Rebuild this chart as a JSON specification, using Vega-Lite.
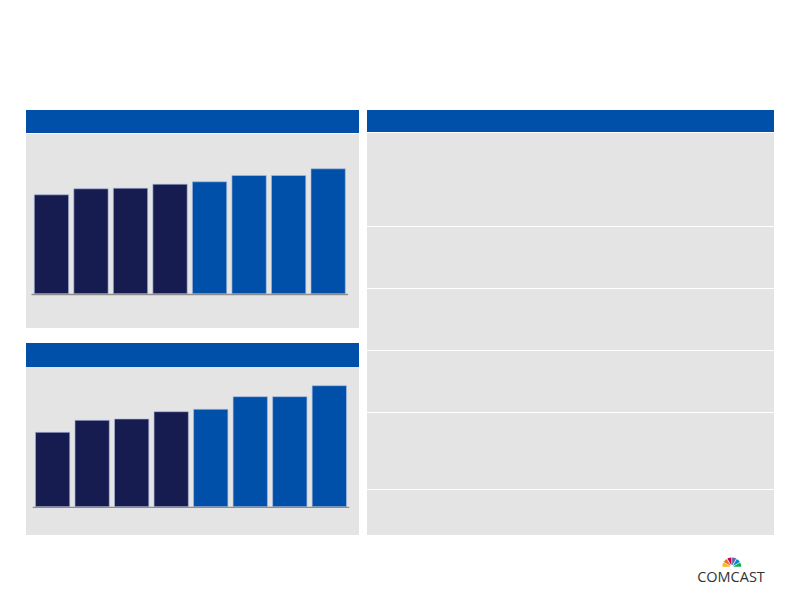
{
  "$schema": "https://vega.github.io/schema/vega-lite/v6.json",
  "background": "white",
  "padding": {"left": 26, "top": 110, "right": 0, "bottom": 0},
  "config": {"view": {"stroke": null}},
  "resolve": {"scale": {"color": "independent"}},
  "datasets": {
    "top": [
      {"bar": "1", "segment": "actual", "value": 99.0},
      {"bar": "2", "segment": "actual", "value": 105.0},
      {"bar": "3", "segment": "actual", "value": 105.6},
      {"bar": "4", "segment": "actual", "value": 109.6},
      {"bar": "5", "segment": "forecast", "value": 112.0},
      {"bar": "6", "segment": "forecast", "value": 118.3},
      {"bar": "7", "segment": "forecast", "value": 118.3},
      {"bar": "8", "segment": "forecast", "value": 125.0}
    ],
    "bottom": [
      {"bar": "1", "segment": "actual", "value": 74.4},
      {"bar": "2", "segment": "actual", "value": 86.4},
      {"bar": "3", "segment": "actual", "value": 87.7},
      {"bar": "4", "segment": "actual", "value": 95.0},
      {"bar": "5", "segment": "forecast", "value": 97.4},
      {"bar": "6", "segment": "forecast", "value": 110.0},
      {"bar": "7", "segment": "forecast", "value": 110.0},
      {"bar": "8", "segment": "forecast", "value": 121.0}
    ],
    "blank": [{"label": ""}],
    "feathers": [
      {"feather": "1", "share": 1},
      {"feather": "2", "share": 1},
      {"feather": "3", "share": 1},
      {"feather": "4", "share": 1},
      {"feather": "5", "share": 1},
      {"feather": "6", "share": 1}
    ],
    "brand": [{"brand": "COMCAST"}]
  },
  "hconcat": [
    {
      "spacing": 15,
      "resolve": {"scale": {"color": "independent"}},
      "vconcat": [
        {
          "spacing": 1,
          "vconcat": [
            {
              "width": 333, "height": 23,
              "view": {"fill": "#004FA8", "stroke": null},
              "data": {"name": "blank"},
              "mark": "text",
              "encoding": {"text": {"field": "label"}}
            },
            {
              "width": 333, "height": 194,
              "view": {"fill": "#E4E4E4", "stroke": null},
              "data": {"name": "top"},
              "layer": [
                {
                  "mark": {"type": "bar", "stroke": "#A8BBDF", "strokeWidth": 0.8, "strokeOpacity": 0.8},
                  "encoding": {
                    "x": {"field": "bar", "type": "nominal", "axis": null, "scale": {"paddingInner": 0.132, "paddingOuter": 0.278, "align": 0.377}},
                    "y": {"field": "value", "type": "quantitative", "axis": null, "scale": {"domain": [-34.2, 159.8], "nice": false}},
                    "color": {"field": "segment", "type": "nominal", "legend": null, "scale": {"domain": ["actual", "forecast"], "range": ["#161B50", "#004FA8"]}}
                  }
                },
                {
                  "mark": {"type": "bar", "width": {"band": 1.16}, "color": "#8E8E8E"},
                  "encoding": {
                    "x": {"field": "bar", "type": "nominal", "axis": null},
                    "y": {"datum": 0, "type": "quantitative"},
                    "y2": {"datum": -1.4}
                  }
                }
              ]
            }
          ]
        },
        {
          "spacing": 0,
          "vconcat": [
            {
              "width": 333, "height": 24,
              "view": {"fill": "#004FA8", "stroke": null},
              "data": {"name": "blank"},
              "mark": "text",
              "encoding": {"text": {"field": "label"}}
            },
            {
              "width": 333, "height": 168,
              "view": {"fill": "#E4E4E4", "stroke": null},
              "data": {"name": "bottom"},
              "layer": [
                {
                  "mark": {"type": "bar", "stroke": "#A8BBDF", "strokeWidth": 0.8, "strokeOpacity": 0.8},
                  "encoding": {
                    "x": {"field": "bar", "type": "nominal", "axis": null, "scale": {"paddingInner": 0.132, "paddingOuter": 0.278, "align": 0.43}},
                    "y": {"field": "value", "type": "quantitative", "axis": null, "scale": {"domain": [-28.3, 139.7], "nice": false}},
                    "color": {"field": "segment", "type": "nominal", "legend": null, "scale": {"domain": ["actual", "forecast"], "range": ["#161B50", "#004FA8"]}}
                  }
                },
                {
                  "mark": {"type": "bar", "width": {"band": 1.16}, "color": "#8E8E8E"},
                  "encoding": {
                    "x": {"field": "bar", "type": "nominal", "axis": null},
                    "y": {"datum": 0, "type": "quantitative"},
                    "y2": {"datum": -1.4}
                  }
                }
              ]
            }
          ]
        }
      ]
    },
    {
      "spacing": 20,
      "resolve": {"scale": {"color": "independent"}},
      "vconcat": [
        {
          "spacing": 1,
          "vconcat": [
            {"width": 407, "height": 22, "view": {"fill": "#004FA8", "stroke": null}, "data": {"name": "blank"}, "mark": "text", "encoding": {"text": {"field": "label"}}},
            {"width": 407, "height": 93, "view": {"fill": "#E4E4E4", "stroke": null}, "data": {"name": "blank"}, "mark": "text", "encoding": {"text": {"field": "label"}}},
            {"width": 407, "height": 61, "view": {"fill": "#E4E4E4", "stroke": null}, "data": {"name": "blank"}, "mark": "text", "encoding": {"text": {"field": "label"}}},
            {"width": 407, "height": 61, "view": {"fill": "#E4E4E4", "stroke": null}, "data": {"name": "blank"}, "mark": "text", "encoding": {"text": {"field": "label"}}},
            {"width": 407, "height": 61, "view": {"fill": "#E4E4E4", "stroke": null}, "data": {"name": "blank"}, "mark": "text", "encoding": {"text": {"field": "label"}}},
            {"width": 407, "height": 76, "view": {"fill": "#E4E4E4", "stroke": null}, "data": {"name": "blank"}, "mark": "text", "encoding": {"text": {"field": "label"}}},
            {"width": 407, "height": 45, "view": {"fill": "#E4E4E4", "stroke": null}, "data": {"name": "blank"}, "mark": "text", "encoding": {"text": {"field": "label"}}}
          ]
        },
        {
          "width": 407, "height": 30,
          "layer": [
            {
              "data": {"name": "feathers"},
              "mark": {"type": "arc", "x": 364.8, "y": 12, "outerRadius": 9.5, "innerRadius": 2, "padAngle": 0.07},
              "encoding": {
                "theta": {"field": "share", "type": "quantitative", "stack": true, "scale": {"range": [-1.5708, 1.5708]}},
                "order": {"field": "feather", "type": "ordinal"},
                "color": {"field": "feather", "type": "nominal", "legend": null, "scale": {"domain": ["1", "2", "3", "4", "5", "6"], "range": ["#FCB711", "#F37021", "#CC004C", "#6460AA", "#0089D0", "#0DB14B"]}}
              }
            },
            {
              "data": {"name": "brand"},
              "mark": {"type": "text", "x": 364, "y": 27.3, "align": "center", "baseline": "alphabetic", "fontSize": 14.5, "font": "Open Sans", "color": "#333333"},
              "encoding": {"text": {"field": "brand"}}
            }
          ]
        }
      ]
    }
  ],
  "spacing": 8
}
